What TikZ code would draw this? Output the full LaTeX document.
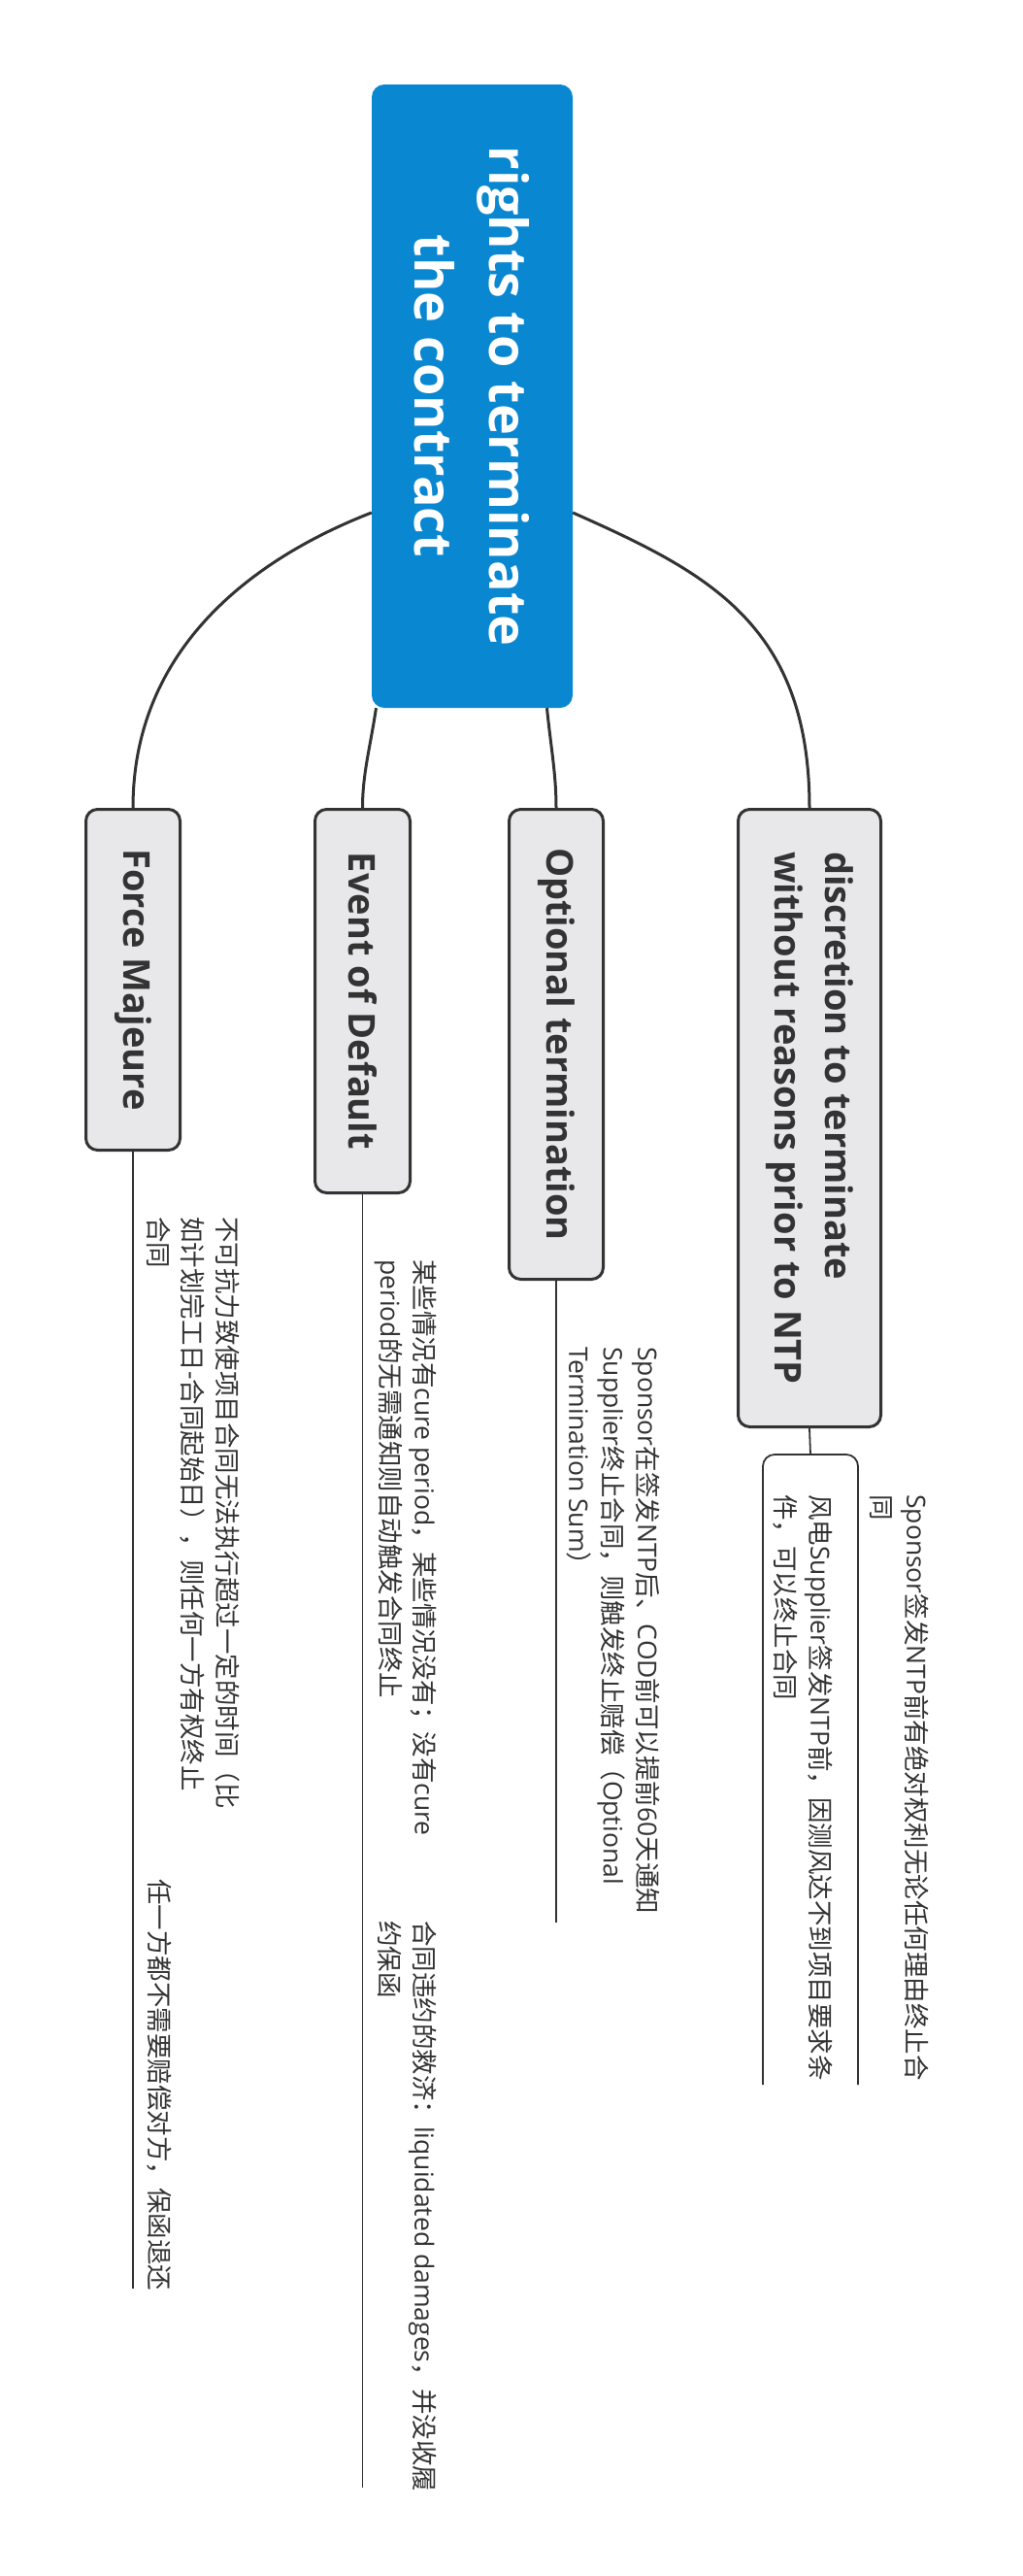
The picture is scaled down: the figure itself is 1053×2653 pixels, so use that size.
\documentclass[tikz,border=0pt]{standalone}
\usepackage{fontspec}
\setmainfont{Open Sans}
\newfontfamily\cjk{Noto Sans CJK SC}
\usetikzlibrary{calc}
\definecolor{rootblue}{HTML}{0A87D1}
\definecolor{boxfill}{HTML}{E8E7EA}
\definecolor{ink}{HTML}{333333}
\newcommand\zhs[1]{{\cjk #1}}
\begin{document}
\begin{tikzpicture}[x=1pt,y=-1pt,
  rootbox/.style={rotate=-90, fill=rootblue, rounded corners=13pt, inner sep=0pt,
    text=white, align=center, font=\bfseries\fontsize{54}{77}\selectfont},
  topicbox/.style={rotate=-90, draw=ink, line width=3pt, fill=boxfill, rounded corners=12pt,
    inner sep=0pt, text=ink, font=\bfseries\fontsize{38}{52}\selectfont},
  notetext/.style={rotate=-90, anchor=north west, inner sep=0pt, align=left, text=ink,
    font=\fontsize{26.5}{35.5}\selectfont},
  branch/.style={draw=ink, line width=3pt},
  spine/.style={draw=ink, line width=1.8pt}]
\useasboundingbox (0,0) rectangle (1053,2653);
\fill[white] (0,0) rectangle (1053,2653);

% root
\node[rootbox, minimum width=642pt, minimum height=207pt] (root) at (486.5,408)
  {rights to terminate\\the contract};

% main topics
\node[topicbox, minimum width=351pt, minimum height=97pt] (fm) at (137,1009) {Force Majeure};
\node[topicbox, minimum width=395pt, minimum height=98pt] (eod) at (373.5,1031) {Event of Default};
\node[topicbox, minimum width=484pt, minimum height=97pt] (ot) at (573,1075.5) {Optional termination};
\node[topicbox, minimum width=636pt, minimum height=147pt, align=left] (disc) at (834,1151.5)
  {discretion to terminate\\without reasons prior to NTP};

% branches
\draw[branch] ($(root.south)+(0,120)$) .. controls +(-121,47) and +(0,-165) .. (fm.west);
\draw[branch] ($(root.east)+(-99,0)$) .. controls +(-6,40) and +(0,-35) .. (eod.west);
\draw[branch] ($(root.east)+(77,0)$) .. controls +(4,40) and +(0,-35) .. (ot.west);
\draw[branch] ($(root.north)+(0,120)$) .. controls +(137,61) and +(0,-190) .. (disc.west);

% spines
\coordinate (fmend) at (137,2357);
\coordinate (eodend) at (373.5,2562);
\coordinate (otend) at (573,1980);
\draw[spine] (fm.east) -- (fmend);
\draw[spine] (eod.east) -- (eodend);
\draw[spine] (ot.east) -- (otend);

% inner frame under discretion
\coordinate (ibtop) at (835,1498);
\coordinate (ibl) at (786,2147);
\coordinate (ibr) at (884,2147);
\draw[spine] (disc.east) -- (ibtop);
\draw[spine, rounded corners=12pt] (ibl) |- (ibtop) -| (ibr);

% notes
\node[notetext] (fmn1) at (247,1253)
  {\zhs{不可抗力致使项目合同无法执行超过一定的时间（比}\\\zhs{如计划完工日}-\zhs{合同起始日），则任何一方有权终止}\\\zhs{合同}};
\node[notetext] (fmn2) at (177,1935) {\zhs{任一方都不需要赔偿对方，保函退还}};
\node[notetext] (eodn1) at (450,1297)
  {\zhs{某些情况有}cure period\zhs{，某些情况没有；没有}cure\\period\zhs{的无需通知则自动触发合同终止}};
\node[notetext] (eodn2) at (450,1978)
  {\zhs{合同违约的救济：}liquidated damages\zhs{，并没收履}\\\zhs{约保函}};
\node[notetext] (otn) at (680,1387)
  {Sponsor\zhs{在签发}NTP\zhs{后、}COD\zhs{前可以提前}60\zhs{天通知}\\Supplier\zhs{终止合同，则触发终止赔偿（}Optional\\Termination Sum\zhs{）}};
\node[notetext] (discn1) at (957,1539)
  {Sponsor\zhs{签发}NTP\zhs{前有绝对权利无论任何理由终止合}\\\zhs{同}};
\node[notetext] (discn2) at (858,1539)
  {\zhs{风电}Supplier\zhs{签发}NTP\zhs{前，因测风达不到项目要求条}\\\zhs{件，可以终止合同}};
\end{tikzpicture}
\end{document}
